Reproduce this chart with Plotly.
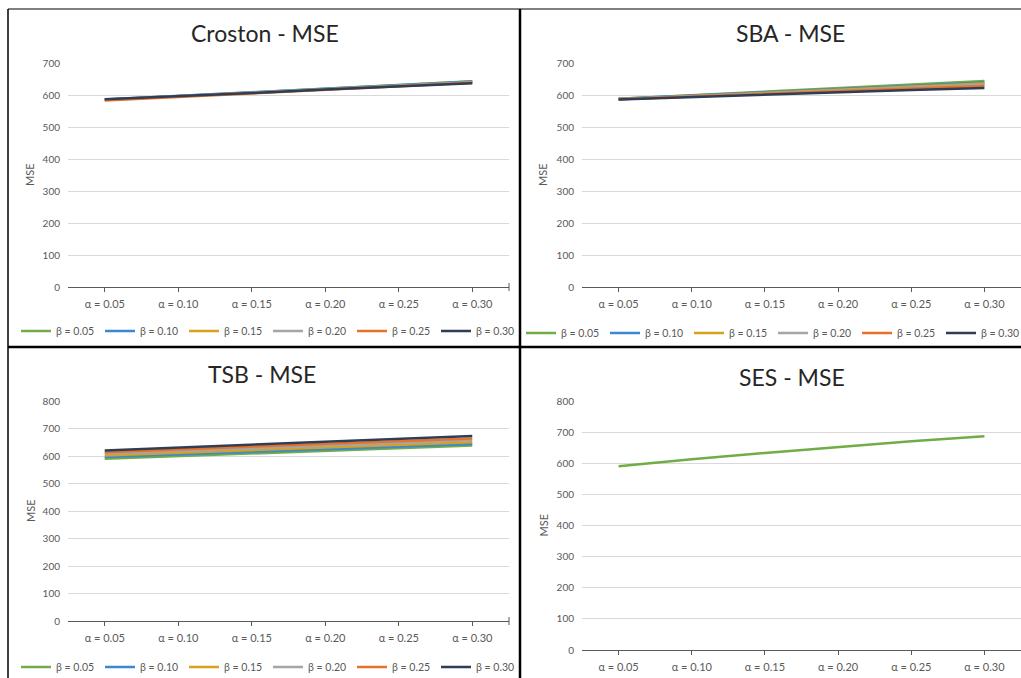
import plotly.graph_objects as go

W, H = 1021, 678

alphas = ["α = 0.05", "α = 0.10", "α = 0.15", "α = 0.20", "α = 0.25", "α = 0.30"]
betas = ["β = 0.05", "β = 0.10", "β = 0.15", "β = 0.20", "β = 0.25", "β = 0.30"]
beta_colors = ["#70AD47", "#3B88D4", "#D6A21C", "#A5A5A5", "#E8702A", "#2F3D55"]

croston_mse = [
    [585, 597, 608, 620, 631, 643],
    [586, 597, 609, 620, 631, 642],
    [585, 596, 607, 618, 629, 640],
    [586, 596, 607, 618, 628, 639],
    [583, 594, 605, 616, 627, 638],
    [587, 596, 606, 617, 627, 637],
]
sba_mse = [
    [588, 599, 610, 621, 633, 644],
    [588, 598, 609, 619, 629, 639],
    [587, 597, 607, 617, 627, 636],
    [587, 596, 606, 615, 624, 632],
    [587, 595, 604, 613, 621, 628],
    [586, 594, 602, 609, 616, 622],
]
tsb_mse = [
    [590, 600, 610, 619, 628, 638],
    [596, 606, 615, 625, 634, 644],
    [602, 612, 622, 631, 641, 650],
    [608, 618, 628, 638, 648, 657],
    [614, 624, 634, 644, 654, 664],
    [620, 631, 641, 652, 662, 673],
]
ses_mse = [590, 613, 633, 652, 671, 687]

FONT = "Lato, 'Open Sans', sans-serif"
TXT = "#595959"

fig = go.Figure()

def px_x(x):
    return x / W

def px_y(y):
    return 1 - y / H

panels = [
    # title, data, xaxis, yaxis, legend, x-domain px, y px (zero, top), ymax, title pos
    ("Croston - MSE", croston_mse, "x", "y", "legend", (68, 509), (287, 63), 700, (265, 33)),
    ("SBA - MSE", sba_mse, "x2", "y2", "legend2", (582, 1021), (287, 63), 700, (790, 33)),
    ("TSB - MSE", tsb_mse, "x3", "y3", "legend3", (68, 509), (621, 401), 800, (262, 374)),
    ("SES - MSE", None, "x4", "y4", None, (582, 1021), (650, 401), 800, (792, 377)),
]

layout_axes = {}
annotations = []
for i, (title, data, xa, ya, leg, (x0, x1), (yz, yt), ymax, (tx, ty)) in enumerate(panels):
    if data is not None:
        for j, b in enumerate(betas):
            fig.add_trace(go.Scatter(
                x=alphas, y=data[j], name=b, mode="lines",
                line=dict(color=beta_colors[j], width=2.5),
                xaxis=xa, yaxis=ya, legend=leg, showlegend=True,
            ))
    else:
        fig.add_trace(go.Scatter(
            x=alphas, y=ses_mse, name="SES", mode="lines",
            line=dict(color=beta_colors[0], width=2.5),
            xaxis=xa, yaxis=ya, showlegend=False,
        ))
    xkey = "xaxis" if i == 0 else f"xaxis{i+1}"
    ykey = "yaxis" if i == 0 else f"yaxis{i+1}"
    layout_axes[xkey] = dict(
        domain=[px_x(x0), min(1.0, px_x(x1))], anchor=ya,
        type="category", range=[-0.5, 5.5],
        showline=True, linecolor="#595959", linewidth=1,
        ticks="outside", ticklen=4, tickcolor="#595959",
        showgrid=False, zeroline=False, ticklabelstandoff=3,
        tickfont=dict(family=FONT, size=11, color=TXT),
    )
    layout_axes[ykey] = dict(
        domain=[px_y(yz), px_y(yt)], anchor=xa,
        range=[0, ymax], dtick=100, tick0=0,
        showline=False, showgrid=True, gridcolor="#D9D9D9", gridwidth=1,
        zeroline=False, ticks="", ticklabelstandoff=7,
        tickfont=dict(family=FONT, size=10, color=TXT),
    )
    annotations.append(dict(
        text=title, x=px_x(tx), y=px_y(ty), xref="paper", yref="paper",
        showarrow=False, xanchor="center", yanchor="middle",
        font=dict(family=FONT, size=23, color="#262626"),
    ))
    annotations.append(dict(
        text="MSE", x=px_x(30 if x0 < 300 else 543), y=px_y((yz + yt) / 2),
        xref="paper", yref="paper", showarrow=False, textangle=-90,
        xanchor="center", yanchor="middle",
        font=dict(family=FONT, size=11, color=TXT),
    ))

legend_common = dict(
    orientation="h", xanchor="center", yanchor="middle",
    font=dict(family=FONT, size=10.5, color=TXT),
    bgcolor="rgba(0,0,0,0)", itemwidth=30, entrywidth=39,
    tracegroupgap=0,
)

shapes = []
def line(x0, y0, x1, y1, w):
    shapes.append(dict(type="line", xref="paper", yref="paper",
                       x0=px_x(x0), y0=px_y(y0), x1=px_x(x1), y1=px_y(y1),
                       line=dict(color="#000000", width=w)))

line(8, 9, 1021, 9, 1)
line(8, 9, 8, 678, 1.5)
line(520, 9, 520, 678, 2.5)
line(8, 347, 1021, 347, 2.5)
# end-of-axis tick marks
for (xe, ye) in [(509, 287), (509, 621)]:
    shapes.append(dict(type="line", xref="paper", yref="paper",
                       x0=px_x(xe), y0=px_y(ye - 4), x1=px_x(xe), y1=px_y(ye + 4),
                       line=dict(color="#595959", width=1)))

fig.update_layout(
    width=W, height=H,
    margin=dict(l=0, r=0, t=0, b=0, autoexpand=False),
    paper_bgcolor="white", plot_bgcolor="white",
    showlegend=True,
    legend=dict(x=px_x(268), y=px_y(331), **legend_common),
    legend2=dict(x=px_x(773), y=px_y(333), **legend_common),
    legend3=dict(x=px_x(268), y=px_y(667), **legend_common),
    annotations=annotations,
    shapes=shapes,
    **layout_axes,
)

fig.write_html("out.html")
